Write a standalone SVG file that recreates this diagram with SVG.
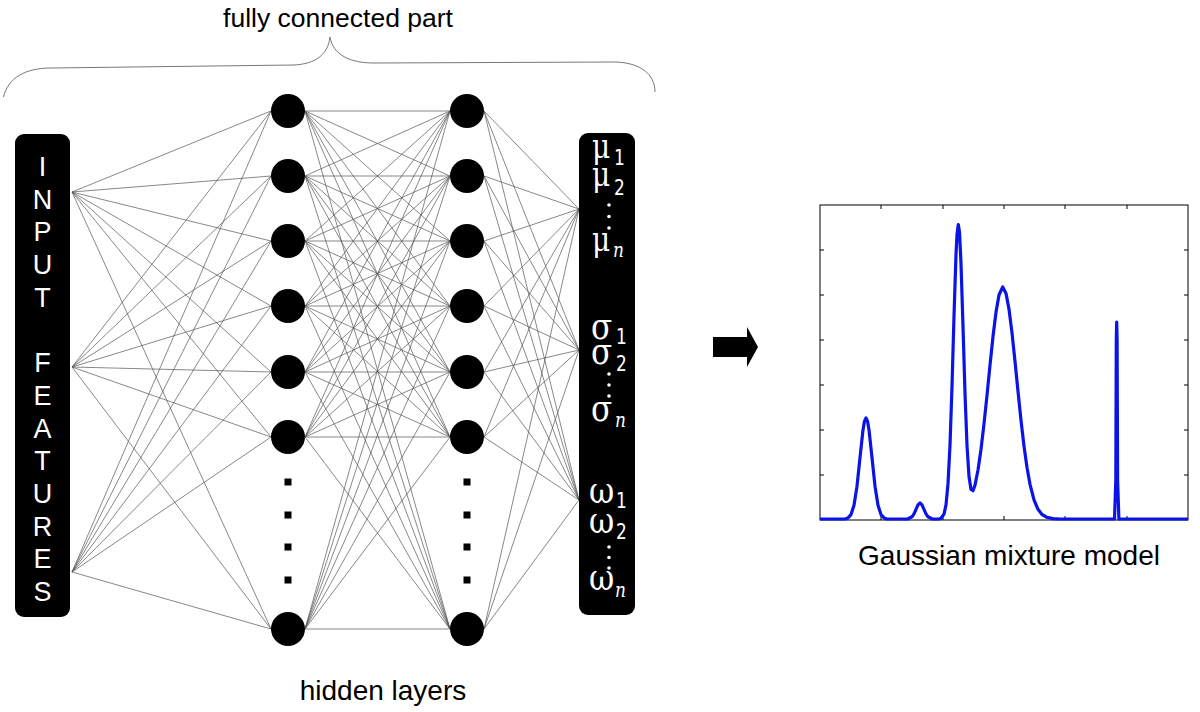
<svg xmlns="http://www.w3.org/2000/svg" width="1200" height="712" viewBox="0 0 1200 712">
<style>
.lbl{font-family:"Liberation Sans",Arial,sans-serif;font-size:28px;fill:#000;text-anchor:middle}
.inp{font-family:"Liberation Sans",Arial,sans-serif;font-size:27px;fill:#fff;text-anchor:middle}
.gr{font-family:"DejaVu Serif","Liberation Serif",serif;font-size:31px;fill:#fff}
.mu{font-size:28px}
.sb{font-family:"DejaVu Sans","Liberation Sans",sans-serif;font-size:17px}
.it{font-family:"DejaVu Serif","Liberation Serif",serif;font-style:italic;font-size:17px}
.edge{fill:none;stroke:#555;stroke-width:0.7}
.node{fill:#000}
.box{fill:#000}
.dot{fill:#fff}
</style>
<rect width="1200" height="712" fill="#fff"/>

<g id="title">
<text class="lbl" x="338" y="27" style="font-size:26.5px">fully connected part</text>
<path d="M3.5,97 C8,78 25,68 51,68 L294,65 C315,64 328,55 330,37 C333,55 350,63 374,63 L613,62 C640,62 655,74 655,92" fill="none" stroke="#777" stroke-width="1"/>
</g>

<g id="connectors">
<path class="edge" d="M72,192 L271,111 M72,192 L271,176 M72,192 L271,241 M72,192 L271,306 M72,192 L271,372 M72,192 L271,437 M72,192 L271,629
M72,367 L271,111 M72,367 L271,176 M72,367 L271,241 M72,367 L271,306 M72,367 L271,372 M72,367 L271,437 M72,367 L271,629
M72,572 L271,111 M72,572 L271,176 M72,572 L271,241 M72,572 L271,306 M72,572 L271,372 M72,572 L271,437 M72,572 L271,629"/>
<path class="edge" d="M305,111 L450,111 M305,111 L450,176 M305,111 L450,241 M305,111 L450,306 M305,111 L450,372 M305,111 L450,437 M305,111 L450,629
M305,176 L450,111 M305,176 L450,176 M305,176 L450,241 M305,176 L450,306 M305,176 L450,372 M305,176 L450,437 M305,176 L450,629
M305,241 L450,111 M305,241 L450,176 M305,241 L450,241 M305,241 L450,306 M305,241 L450,372 M305,241 L450,437 M305,241 L450,629
M305,306 L450,111 M305,306 L450,176 M305,306 L450,241 M305,306 L450,306 M305,306 L450,372 M305,306 L450,437 M305,306 L450,629
M305,372 L450,111 M305,372 L450,176 M305,372 L450,241 M305,372 L450,306 M305,372 L450,372 M305,372 L450,437 M305,372 L450,629
M305,437 L450,111 M305,437 L450,176 M305,437 L450,241 M305,437 L450,306 M305,437 L450,372 M305,437 L450,437 M305,437 L450,629
M305,629 L450,111 M305,629 L450,176 M305,629 L450,241 M305,629 L450,306 M305,629 L450,372 M305,629 L450,437 M305,629 L450,629"/>
<path class="edge" d="M484,111 L579,209 M484,111 L579,350 M484,111 L579,500
M484,176 L579,209 M484,176 L579,350 M484,176 L579,500
M484,241 L579,209 M484,241 L579,350 M484,241 L579,500
M484,306 L579,209 M484,306 L579,350 M484,306 L579,500
M484,372 L579,209 M484,372 L579,350 M484,372 L579,500
M484,437 L579,209 M484,437 L579,350 M484,437 L579,500
M484,629 L579,209 M484,629 L579,350 M484,629 L579,500"/>
</g>

<g id="input">
<rect class="box" x="15" y="134" width="55" height="483" rx="9"/>
<text class="inp" x="42.5" y="176">I</text>
<text class="inp" x="42.5" y="208.7">N</text>
<text class="inp" x="42.5" y="241.4">P</text>
<text class="inp" x="42.5" y="274.1">U</text>
<text class="inp" x="42.5" y="306.8">T</text>
<text class="inp" x="42.5" y="372.2">F</text>
<text class="inp" x="42.5" y="404.9">E</text>
<text class="inp" x="42.5" y="437.6">A</text>
<text class="inp" x="42.5" y="470.3">T</text>
<text class="inp" x="42.5" y="503">U</text>
<text class="inp" x="42.5" y="535.7">R</text>
<text class="inp" x="42.5" y="568.4">E</text>
<text class="inp" x="42.5" y="601.1">S</text>
</g>

<g id="hidden1">
<circle class="node" cx="288" cy="111" r="17"/>
<circle class="node" cx="288" cy="176" r="17"/>
<circle class="node" cx="288" cy="241" r="17"/>
<circle class="node" cx="288" cy="306" r="17"/>
<circle class="node" cx="288" cy="372" r="17"/>
<circle class="node" cx="288" cy="437" r="17"/>
<circle class="node" cx="288" cy="629" r="17"/>
<rect x="284.5" y="478.5" width="7" height="7"/>
<rect x="284.5" y="511.5" width="7" height="7"/>
<rect x="284.5" y="543.5" width="7" height="7"/>
<rect x="284.5" y="576.5" width="7" height="7"/>
</g>

<g id="hidden2">
<circle class="node" cx="467" cy="111" r="17"/>
<circle class="node" cx="467" cy="176" r="17"/>
<circle class="node" cx="467" cy="241" r="17"/>
<circle class="node" cx="467" cy="306" r="17"/>
<circle class="node" cx="467" cy="372" r="17"/>
<circle class="node" cx="467" cy="437" r="17"/>
<circle class="node" cx="467" cy="629" r="17"/>
<rect x="463.5" y="478.5" width="7" height="7"/>
<rect x="463.5" y="511.5" width="7" height="7"/>
<rect x="463.5" y="543.5" width="7" height="7"/>
<rect x="463.5" y="576.5" width="7" height="7"/>
</g>

<g id="output">
<rect class="box" x="579" y="133" width="56" height="482" rx="9"/>
<text class="gr mu" x="592" y="158" transform="matrix(1 0 0 1.2 0 -31.6)">μ<tspan class="sb" x="614" dy="5.8">1</tspan></text>
<text class="gr mu" x="592" y="186" transform="matrix(1 0 0 1.2 0 -37.2)">μ<tspan class="sb" x="614" dy="7.5">2</tspan></text>
<circle class="dot" cx="609" cy="205" r="1.8"/><circle class="dot" cx="609" cy="216.5" r="1.8"/><circle class="dot" cx="609" cy="228" r="1.8"/>
<text class="gr mu" x="592" y="251" transform="matrix(1 0 0 1.2 0 -50.2)">μ<tspan class="it" x="613" dy="5">n</tspan></text>

<text class="gr" x="591" y="339" transform="matrix(1 0 0 1.2 0 -67.8)">σ<tspan class="sb" x="616" dy="4.2">1</tspan></text>
<text class="gr" x="591" y="364" transform="matrix(1 0 0 1.2 0 -72.8)">σ<tspan class="sb" x="616" dy="5.8">2</tspan></text>
<circle class="dot" cx="609" cy="374" r="1.8"/><circle class="dot" cx="609" cy="385" r="1.8"/><circle class="dot" cx="609" cy="396" r="1.8"/>
<text class="gr" x="591" y="421" transform="matrix(1 0 0 1.2 0 -84.2)">σ<tspan class="it" x="615" dy="5">n</tspan></text>

<text class="gr" x="589" y="503" transform="matrix(1 0 0 1.2 0 -100.6)">ω<tspan class="sb" x="616" dy="4.2">1</tspan></text>
<text class="gr" x="589" y="533" transform="matrix(1 0 0 1.2 0 -106.6)">ω<tspan class="sb" x="616" dy="5">2</tspan></text>
<circle class="dot" cx="609" cy="547" r="1.8"/><circle class="dot" cx="609" cy="557.5" r="1.8"/><circle class="dot" cx="609" cy="568" r="1.8"/>
<text class="gr" x="589" y="590" transform="matrix(1 0 0 1.2 0 -118)">ω<tspan class="it" x="615" dy="5.8">n</tspan></text>
</g>

<g id="hidden-label">
<text class="lbl" x="383" y="700">hidden layers</text>
</g>

<g id="arrow">
<polygon points="713,337 747,337 747,327 758,347 747,367 747,357 713,357" fill="#000"/>
</g>

<g id="plot">
<rect x="820" y="205" width="368" height="315" fill="none" stroke="#000" stroke-width="1"/>
<path d="M881,520 v-4 M943,520 v-4 M1004,520 v-4 M1065,520 v-4 M1127,520 v-4
M881,205 v4 M943,205 v4 M1004,205 v4 M1065,205 v4 M1127,205 v4
M820,250 h4 M820,295 h4 M820,340 h4 M820,385 h4 M820,430 h4 M820,475 h4
M1188,250 h-4 M1188,295 h-4 M1188,340 h-4 M1188,385 h-4 M1188,430 h-4 M1188,475 h-4" fill="none" stroke="#000" stroke-width="1"/>
<polyline fill="none" stroke="#0a14e6" stroke-width="3.2" stroke-linejoin="round" points="820,519 845,519 848,517.9 851,514.6 854,505.3 857,486.2 860,457.7 863,429.9 864.5,421.1 866,418 867.5,421.1 869,429.9 872,457.7 875,486.2 878,505.3 881,514.6 884,517.9 887,519 906,519 908,518.8 912,516.8 914,513.8 916,509.3 918,504.9 920,503 922,504.9 924,509.3 926,513.8 928,516.8 932,518.8 934,519 939,519 941,518.3 944,514.1 946,504.8 948,483.7 950,445.1 952,386.3 954,316 956,254.4 957,234.7 958.3,224.5 959.5,232.3 961,263.1 963,326.4 965,393.4 967,445.5 969,476.5 971,489.5 973,490.7 975,485.1 978,470 981,449.2 984,423.9 987,395.3 990,365.2 993,336.5 996,312.1 999,295 1002.7,287 1006,293.4 1009,309.3 1012,332.9 1015,361.3 1018,391.3 1021,420.3 1024,446.1 1027,467.5 1030,484.3 1034,499.9 1038,509.3 1042,514.5 1047,517.4 1053,518.6 1060,519 1114.5,519 1115.8,480 1116.3,340 1116.7,322 1117.1,340 1117.6,480 1118.9,519 1188,519"/>
<text class="lbl" x="1009" y="565">Gaussian mixture model</text>
</g>
</svg>
